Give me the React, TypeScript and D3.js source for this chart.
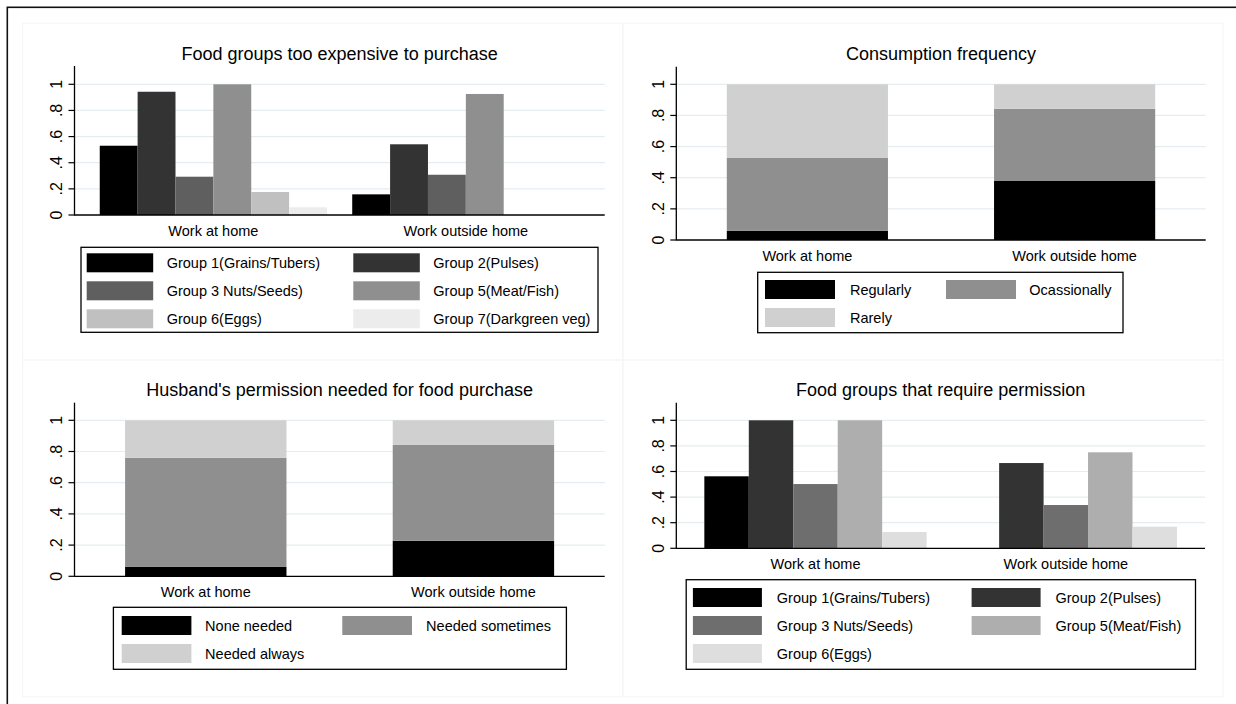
import React from "react";
import * as d3 from "d3";

const FONT = "'Liberation Sans', Arial, Helvetica, sans-serif";

// ---------- data ----------
const categories = ["Work at home", "Work outside home"];
const yTicks = [0, 0.2, 0.4, 0.6, 0.8, 1];
const yTickLabels = ["0", ".2", ".4", ".6", ".8", "1"];

const expensiveGroups = [
  "Group 1(Grains/Tubers)",
  "Group 2(Pulses)",
  "Group 3 Nuts/Seeds)",
  "Group 5(Meat/Fish)",
  "Group 6(Eggs)",
  "Group 7(Darkgreen veg)",
];
const expensiveHome = [0.53, 0.943, 0.293, 1.0, 0.176, 0.059];
const expensiveOutside = [0.158, 0.541, 0.308, 0.926, 0, 0];

const freqLevels = ["Regularly", "Ocassionally", "Rarely"];
const freqHome = [0.06, 0.469, 0.471];
const freqOutside = [0.379, 0.464, 0.157];

const permLevels = ["None needed", "Needed sometimes", "Needed always"];
const permHome = [0.06, 0.7, 0.24];
const permOutside = [0.228, 0.614, 0.158];

const reqGroups = [
  "Group 1(Grains/Tubers)",
  "Group 2(Pulses)",
  "Group 3 Nuts/Seeds)",
  "Group 5(Meat/Fish)",
  "Group 6(Eggs)",
];
const reqHome = [0.5625, 1.0, 0.502, 1.0, 0.127];
const reqOutside = [0, 0.666, 0.338, 0.75, 0.169];

// ---------- styles ----------
const colors6 = ["#000000", "#333333", "#5f5f5f", "#8f8f8f", "#c0c0c0", "#ececec"];
const colors5 = ["#000000", "#333333", "#6e6e6e", "#aeaeae", "#dedede"];
const colors3 = ["#000000", "#8f8f8f", "#d0d0d0"];

type Cfg = {
  ax0: number; ax1: number; y0: number; y1: number; yTop: number;
  pi: number; po: number; titleY: number;
};
type Leg = {
  x: number; y: number; w: number; h: number;
  sw: number[]; swW: number; tx: number[]; rows: number[];
};

function Panel({ cfg, title, names, home, outside, colors, stacked, legend }: {
  cfg: Cfg; title: string; names: string[]; home: number[]; outside: number[];
  colors: string[]; stacked: boolean; legend: Leg;
}) {
  const x = d3.scaleBand<string>().domain(categories).range([cfg.ax0, cfg.ax1])
    .paddingInner(cfg.pi).paddingOuter(cfg.po);
  const y = d3.scaleLinear().domain([0, 1]).range([cfg.y0, cfg.y1]);
  const inner = d3.scaleBand<string>().domain(names).range([0, x.bandwidth()]);
  const color = d3.scaleOrdinal<string, string>().domain(names).range(colors);
  const data = [home, outside];

  const rows = categories.map((c, ci) => {
    const r: any = { cat: c };
    names.forEach((n, i) => (r[n] = data[ci][i]));
    return r;
  });
  const series = d3.stack<any>().keys(names)(rows);

  const fs = 14.5;
  return (
    <g>
      {yTicks.filter((t) => t > 0).map((t) => (
        <line key={"g" + t} x1={cfg.ax0} x2={cfg.ax1} y1={y(t)} y2={y(t)}
          stroke="#e4edf0" strokeWidth={1.2} />
      ))}
      {stacked
        ? series.map((s) =>
            s.map((d, ci) => (
              <rect key={s.key + ci} x={x(categories[ci])!} width={x.bandwidth()}
                y={y(d[1])} height={y(d[0]) - y(d[1])} fill={color(s.key)} />
            )))
        : categories.map((c, ci) =>
            names.map((n, i) => (
              <rect key={c + n} x={x(c)! + inner(n)!} width={inner.bandwidth()}
                y={y(data[ci][i])} height={y(0) - y(data[ci][i])} fill={color(n)} />
            )))}
      <line x1={cfg.ax0} x2={cfg.ax0} y1={cfg.yTop} y2={cfg.y0 + 0.6} stroke="#000" strokeWidth={1.3} />
      <line x1={cfg.ax0} x2={cfg.ax1} y1={cfg.y0} y2={cfg.y0} stroke="#000" strokeWidth={1.3} />
      {yTicks.map((t, i) => (
        <g key={"t" + t}>
          <line x1={cfg.ax0 - 6} x2={cfg.ax0} y1={y(t)} y2={y(t)} stroke="#000" strokeWidth={1.2} />
          <text transform={`translate(${cfg.ax0 - 12.5},${y(t)}) rotate(-90)`}
            textAnchor="middle" fontSize={16} fontFamily={FONT} fill="#000">
            {yTickLabels[i]}
          </text>
        </g>
      ))}
      {categories.map((c) => (
        <text key={"c" + c} x={x(c)! + x.bandwidth() / 2} y={cfg.y0 + 21}
          textAnchor="middle" fontSize={fs} fontFamily={FONT} fill="#000">{c}</text>
      ))}
      <text x={(cfg.ax0 + cfg.ax1) / 2} y={cfg.titleY} textAnchor="middle"
        fontSize={18} fontFamily={FONT} fill="#000">{title}</text>
      <rect x={legend.x} y={legend.y} width={legend.w} height={legend.h}
        fill="#fff" stroke="#000" strokeWidth={1.3} />
      {names.map((n, i) => {
        const r = Math.floor(i / 2);
        const c = i % 2;
        const top = legend.rows[r];
        return (
          <g key={"l" + n}>
            <rect x={legend.sw[c]} y={top} width={legend.swW} height={19} fill={color(n)} />
            <text x={legend.tx[c]} y={top + 14.7} fontSize={fs} fontFamily={FONT} fill="#000">{n}</text>
          </g>
        );
      })}
    </g>
  );
}

const P1: Cfg = { ax0: 74.5, ax1: 604.7, y0: 215, y1: 84.3, yTop: 66, pi: 0.1, po: 0.1, titleY: 59.7 };
const P2: Cfg = { ax0: 676.3, ax1: 1205.7, y0: 240, y1: 84.3, yTop: 66.7, pi: 0.397, po: 0.189, titleY: 59.7 };
const P3: Cfg = { ax0: 74.5, ax1: 604.7, y0: 576.3, y1: 420.3, yTop: 402.7, pi: 0.397, po: 0.189, titleY: 395.7 };
const P4: Cfg = { ax0: 676.3, ax1: 1205, y0: 548.3, y1: 420.3, yTop: 402.7, pi: 0.112, po: 0.112, titleY: 395.7 };

const L1: Leg = { x: 81, y: 247.3, w: 517, h: 85, sw: [86.7, 353.3], swW: 66.5, tx: [166.7, 433.3], rows: [253.3, 281.3, 309.3] };
const L2: Leg = { x: 757.7, y: 272.3, w: 365.3, h: 60.4, sw: [765, 946], swW: 70, tx: [850, 1029.3], rows: [280, 308] };
const L3: Leg = { x: 113.4, y: 607.3, w: 453, h: 62, sw: [121.7, 342.3], swW: 69.7, tx: [205.1, 426.1], rows: [616, 644] };
const L4: Leg = { x: 686.2, y: 579.7, w: 509.3, h: 89.6, sw: [692.9, 971.6], swW: 69, tx: [776.8, 1055.5], rows: [588, 616, 644] };

export default function App() {
  return (
    <svg width={1236} height={704} style={{ position: "absolute", left: 0, top: 0, background: "#fff" }}>
      <rect x={0} y={0} width={1236} height={704} fill="#fff" />
      {[[22.7, 23.3], [622.8, 23.3], [22.7, 360], [622.8, 360]].map(([px, py], i) => (
        <rect key={"pr" + i} x={px} y={py} width={600.2} height={336.7} fill="none" stroke="#f6f6f6" strokeWidth={1} />
      ))}
      <rect x={7.3} y={7.3} width={1250} height={720} fill="none" stroke="#111" strokeWidth={1.6} />
      <Panel cfg={P1} title="Food groups too expensive to purchase" names={expensiveGroups}
        home={expensiveHome} outside={expensiveOutside} colors={colors6} stacked={false} legend={L1} />
      <Panel cfg={P2} title="Consumption frequency" names={freqLevels}
        home={freqHome} outside={freqOutside} colors={colors3} stacked={true} legend={L2} />
      <Panel cfg={P3} title="Husband's permission needed for food purchase" names={permLevels}
        home={permHome} outside={permOutside} colors={colors3} stacked={true} legend={L3} />
      <Panel cfg={P4} title="Food groups that require permission" names={reqGroups}
        home={reqHome} outside={reqOutside} colors={colors5} stacked={false} legend={L4} />
    </svg>
  );
}
